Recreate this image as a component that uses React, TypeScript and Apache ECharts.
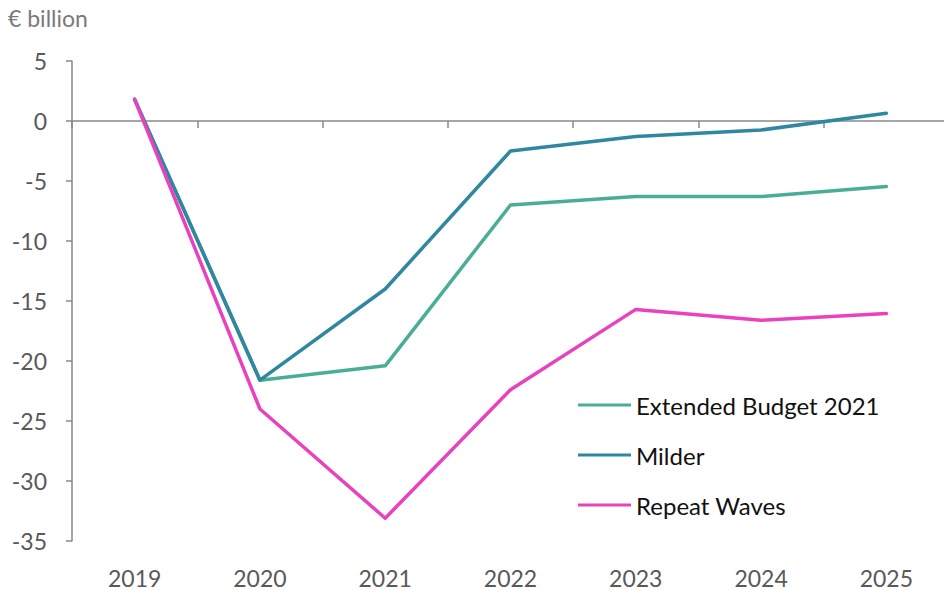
import React, { useEffect, useRef } from "react";
import * as echarts from "echarts";

const years = ["2019", "2020", "2021", "2022", "2023", "2024", "2025"];
const extendedBudget = [1.8, -21.6, -20.4, -7.0, -6.3, -6.3, -5.45];
const milder = [1.8, -21.6, -14.0, -2.5, -1.3, -0.75, 0.65];
const repeatWaves = [1.8, -24.0, -33.1, -22.4, -15.7, -16.6, -16.05];

const FONT = "Lato, 'Noto Sans', sans-serif";
const AXIS_GREY = "#898989";
const LABEL_GREY = "#595959";

export default function App() {
  const ref = useRef<HTMLDivElement>(null);

  useEffect(() => {
    if (!ref.current) return;
    const chart = echarts.init(ref.current, null, { renderer: "svg" });
    const line = (name: string, data: number[], color: string) => ({
      name,
      type: "line",
      data,
      xAxisIndex: 0,
      symbol: "none",
      lineStyle: { color, width: 3.5, cap: "round", join: "round" },
      itemStyle: { color },
    });
    chart.setOption({
      animation: false,
      textStyle: { fontFamily: FONT },
      graphic: [
        {
          type: "text",
          left: 8,
          top: 6,
          style: { text: "€ billion", fontSize: 23, fill: "#7a7a7a", fontFamily: FONT },
        },
      ],
      grid: { left: 72, top: 61, right: -5, bottom: 49, outerBoundsMode: "none", containLabel: false },
      legend: {
        orient: "vertical",
        left: 573,
        top: 388,
        itemWidth: 53,
        itemHeight: 3,
        itemGap: 26,
        icon: "rect",
        textStyle: { fontSize: 24, color: "#111", fontFamily: FONT },
        data: ["Extended Budget 2021", "Milder", "Repeat Waves"],
      },
      xAxis: [
        {
          // zero line with category separators
          type: "category",
          data: years,
          position: "bottom",
          boundaryGap: true,
          axisLine: { onZero: true, lineStyle: { color: AXIS_GREY, width: 1.5 } },
          axisTick: { show: true, length: 7, lineStyle: { color: AXIS_GREY, width: 1.5 } },
          axisLabel: { show: false },
          splitLine: { show: false },
        },
        {
          // year labels along the bottom of the plot
          type: "category",
          data: years,
          position: "bottom",
          boundaryGap: true,
          axisLine: { show: false, onZero: false },
          axisTick: { show: false },
          axisLabel: { margin: 25, fontSize: 23, color: LABEL_GREY, fontFamily: FONT },
          splitLine: { show: false },
        },
      ],
      yAxis: {
        type: "value",
        min: -35,
        max: 5,
        interval: 5,
        axisLine: { show: true, lineStyle: { color: AXIS_GREY, width: 1.5 } },
        axisTick: { show: true, length: 6, lineStyle: { color: AXIS_GREY, width: 1.5 } },
        axisLabel: { margin: 25, fontSize: 23, color: LABEL_GREY, fontFamily: FONT },
        splitLine: { show: false },
      },
      series: [
        line("Extended Budget 2021", extendedBudget, "#4aae96"),
        line("Milder", milder, "#2f87a0"),
        line("Repeat Waves", repeatWaves, "#e842be"),
      ],
    });
    return () => chart.dispose();
  }, []);

  return (
    <div
      ref={ref}
      style={{ position: "fixed", left: 0, top: 0, width: 944, height: 590, background: "#fff" }}
    />
  );
}
